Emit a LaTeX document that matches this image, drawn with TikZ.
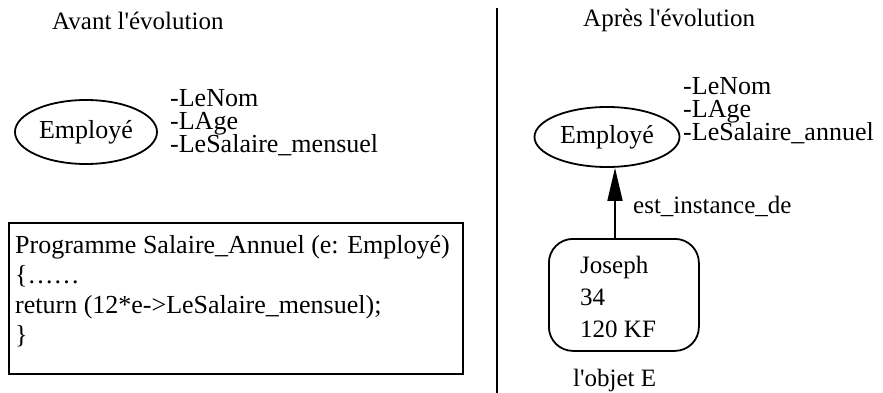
\documentclass[tikz,border=0pt]{standalone}
\usepackage{fontspec}
\setmainfont{Liberation Serif}[Ligatures=TeXOff]
\usetikzlibrary{shapes.geometric,arrows.meta}
\begin{document}
\begin{tikzpicture}[x=1pt,y=-1pt,
  txt/.style={font=\fontsize{25}{25}\selectfont, inner sep=0pt, anchor=base west},
  big/.style={font=\fontsize{26}{26}\selectfont, inner sep=0pt, anchor=base west},
  attr/.style={font={\fontsize{26}{23.5}\selectfont\lineskiplimit=-50pt}, inner sep=0pt, align=left, anchor=base west},
  cls/.style={ellipse, draw, line width=1.8pt, inner sep=0pt, font=\fontsize{26}{26}\selectfont},
  frame/.style={draw, line width=1.8pt, inner sep=0pt, anchor=north west}
]
\useasboundingbox (0,0) rectangle (883,393);
% titles
\node[txt] (t1) at (52,30) {Avant l'évolution};
\node[txt] (t2) at (583,27) {Après l'évolution};
% separator
\coordinate (s1) at (497,8);
\coordinate (s2) at (497,393);
\draw[line width=1.5pt] (s1) -- (s2);
% left class (base anchor = last line)
\node[cls, minimum width=142pt, minimum height=64pt] (e1) at (86,132) {Employé};
\node[attr] (a1) at (170,153) {-LeNom\\-LAge\\-LeSalaire\_mensuel};
% program box
\node[frame, minimum width=454pt, minimum height=151pt] (pb) at (8,222) {};
\node[big] (p1) at (15,253) {Programme Salaire\_Annuel (e: Employé)};
\node[big] (p2) at (15,283) {\{\ldots\ldots};
\node[big] (p3) at (15,313) {return (12*e->LeSalaire\_mensuel);};
\node[big] (p4) at (15,343) {\}};
% right class
\node[cls, minimum width=145pt, minimum height=60pt] (e2) at (607,137) {Employé};
\node[attr] (b1) at (683,141) {-LeNom\\-LAge\\-LeSalaire\_annuel};
% object
\node[frame, rounded corners=24pt, minimum width=150pt, minimum height=112pt] (ob) at (548,238) {};
\node[txt] (o1) at (580,273) {Joseph};
\node[txt] (o2) at (580,305) {34};
\node[txt] (o3) at (580,337) {120 KF};
\node[txt] (oe) at (573,386) {l'objet E};
% arrow
\draw[line width=1.8pt, -{Triangle[length=33pt,width=15pt]}] (ob.north -| 615,0) -- (e2.south -| 615,0);
\node[txt] (lb) at (633,213) {est\_instance\_de};
\end{tikzpicture}
\end{document}
